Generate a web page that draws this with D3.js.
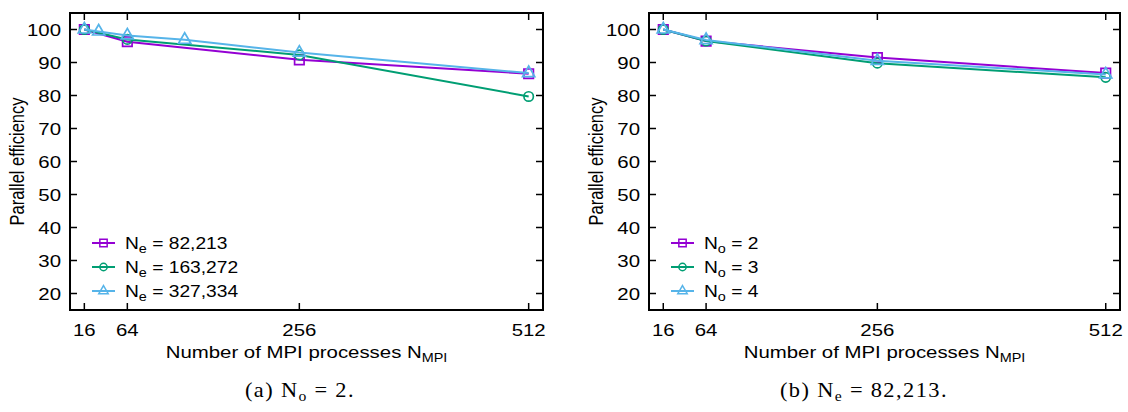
<!DOCTYPE html>
<html>
<head>
<meta charset="utf-8">
<script src="https://cdn.jsdelivr.net/npm/d3@7"></script>
<style>
  body { margin: 0; background: #fff; }
  text { font-family: "Liberation Sans", Arial, sans-serif; fill: #000; }
  .cap { font-family: "Liberation Serif", "DejaVu Serif", serif; letter-spacing: 1.3px; }
</style>
</head>
<body>
<script>
// x values (MPI processes)
var procs = [16, 64, 256, 512];
var procsFine = [16, 32, 64, 128, 256, 512];
var xTickValues = [16, 64, 256, 512];
var yTickValues = [20, 30, 40, 50, 60, 70, 80, 90, 100];

// panel (a): N_o = 2, varying N_e
var effA1 = [100, 96.3, 90.8, 86.6];              // Ne = 82,213
var effA2 = [100, 97.0, 92.3, 79.7];              // Ne = 163,272
var effA3 = [100, 99.4, 98.2, 96.9, 93.0, 86.8];  // Ne = 327,334

// panel (b): N_e = 82,213, varying N_o
var effB1 = [100, 96.5, 91.5, 86.8];  // No = 2
var effB2 = [100, 96.5, 89.8, 85.5];  // No = 3
var effB3 = [100, 96.8, 90.5, 86.4];  // No = 4

var colors = ["#9400d3", "#009e73", "#56b4e9"];
var symbols = [d3.symbolSquare, d3.symbolCircle, d3.symbolTriangle];
var symSizes = [90, 70, 64];

var SX = 1.2; // text in the picture is a bit wider than tall

var svg = d3.select("body").append("svg")
  .attr("width", 1128).attr("height", 412);

// text placed at (x,y), stretched horizontally
function label(g, x, y, size, anchor, cls, sx) {
  var t = g.append("text")
    .attr("transform", "translate(" + x + "," + y + ") scale(" + (sx || SX) + ",1)")
    .attr("font-size", size).attr("text-anchor", anchor || "start");
  if (cls) t.attr("class", cls);
  return t;
}

function drawPanel(left, right, series, legendSub, legendVals, caption) {
  var top = 13, bottom = 310;
  var x = d3.scaleLinear().domain([0, 528]).range([left, right]);
  var y = d3.scaleLinear().domain([15, 105]).range([bottom, top]);
  var g = svg.append("g");

  // ticks (inward, mirrored)
  var tl = 7;
  xTickValues.forEach(function(v) {
    g.append("line").attr("x1", x(v)).attr("x2", x(v)).attr("y1", bottom).attr("y2", bottom - tl)
      .attr("stroke", "#000").attr("stroke-width", 1.5);
    g.append("line").attr("x1", x(v)).attr("x2", x(v)).attr("y1", top).attr("y2", top + tl)
      .attr("stroke", "#000").attr("stroke-width", 1.5);
    label(g, x(v), 336, 17, "middle").text(v);
  });
  yTickValues.forEach(function(v) {
    g.append("line").attr("x1", left).attr("x2", left + tl).attr("y1", y(v)).attr("y2", y(v))
      .attr("stroke", "#000").attr("stroke-width", 1.5);
    g.append("line").attr("x1", right).attr("x2", right - tl).attr("y1", y(v)).attr("y2", y(v))
      .attr("stroke", "#000").attr("stroke-width", 1.5);
    label(g, left - 9, y(v) + 6, 17, "end").text(v);
  });

  // frame
  g.append("rect").attr("x", left).attr("y", top).attr("width", right - left).attr("height", bottom - top)
    .attr("fill", "none").attr("stroke", "#000").attr("stroke-width", 2);

  // data
  var line = d3.line().x(function(d) { return x(d[0]); }).y(function(d) { return y(d[1]); });
  series.forEach(function(s, i) {
    var pts = s.xs.map(function(v, j) { return [v, s.ys[j]]; });
    g.append("path").attr("d", line(pts)).attr("fill", "none")
      .attr("stroke", colors[i]).attr("stroke-width", 2);
    g.selectAll(null).data(pts).enter().append("path")
      .attr("d", d3.symbol().type(symbols[i]).size(symSizes[i]))
      .attr("transform", function(d) { return "translate(" + x(d[0]) + "," + y(d[1]) + ")"; })
      .attr("fill", "none").attr("stroke", colors[i]).attr("stroke-width", 1.7);
  });

  // legend
  var lx = left + 22, ly = 243;
  legendVals.forEach(function(v, i) {
    var yy = ly + i * 24;
    g.append("line").attr("x1", lx).attr("x2", lx + 23).attr("y1", yy).attr("y2", yy)
      .attr("stroke", colors[i]).attr("stroke-width", 2);
    g.append("path").attr("d", d3.symbol().type(symbols[i]).size(symSizes[i] * 0.6))
      .attr("transform", "translate(" + (lx + 11.5) + "," + yy + ")")
      .attr("fill", "none").attr("stroke", colors[i]).attr("stroke-width", 1.5);
    var t = label(g, lx + 33, yy + 6, 16);
    t.append("tspan").text("N");
    t.append("tspan").attr("font-size", 12).attr("dy", 4).text(legendSub);
    t.append("tspan").attr("dy", -4).text(" = " + v);
  });

  // axis titles
  var xt = label(g, (left + right) / 2, 358, 17, "middle");
  xt.append("tspan").text("Number of MPI processes N");
  xt.append("tspan").attr("font-size", 12).attr("dy", 4).text("MPI");

  g.append("text").attr("transform", "translate(" + (left - 46) + "," + ((top + bottom) / 2) + ") rotate(-90) scale(1," + SX + ")")
    .attr("text-anchor", "middle").attr("font-size", 16.5).text("Parallel efficiency");

  // caption (TeX-like spacing)
  var c = label(g, caption.x, 397, 20, "middle", "cap", 1.12);
  c.append("tspan").text(caption.pre);
  c.append("tspan").attr("dx", 6).text("N");
  c.append("tspan").attr("font-size", 14).attr("dy", 4).text(caption.sub);
  c.append("tspan").attr("dy", -4).attr("dx", 6).text("=");
  c.append("tspan").attr("dx", 6).text(caption.val + ".");
}

drawPanel(70, 543,
  [{xs: procs, ys: effA1}, {xs: procs, ys: effA2}, {xs: procsFine, ys: effA3}],
  "e", ["82,213", "163,272", "327,334"],
  {x: 300, pre: "(a)", sub: "o", val: "2"});

drawPanel(649, 1120,
  [{xs: procs, ys: effB1}, {xs: procs, ys: effB2}, {xs: procs, ys: effB3}],
  "o", ["2", "3", "4"],
  {x: 864, pre: "(b)", sub: "e", val: "82,213"});
</script>
</body>
</html>
